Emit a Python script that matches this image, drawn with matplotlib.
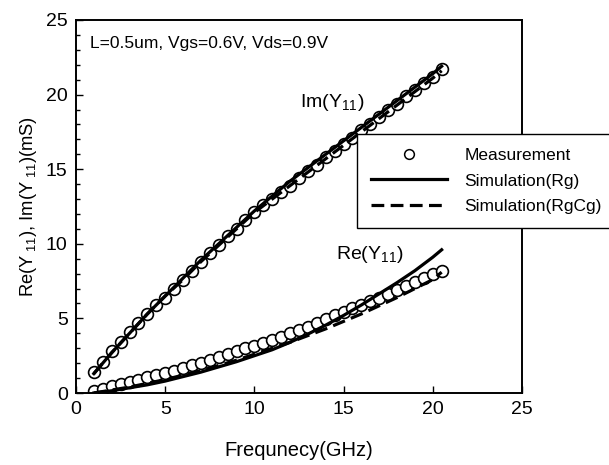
import matplotlib
matplotlib.use("Agg")
import matplotlib.pyplot as plt
from matplotlib.lines import Line2D

plt.rcParams['font.family'] = ['Liberation Sans', 'DejaVu Sans']
plt.rcParams['mathtext.fontset'] = 'custom'
plt.rcParams['mathtext.rm'] = 'Liberation Sans'
plt.rcParams['mathtext.it'] = 'Liberation Sans'
plt.rcParams['mathtext.bf'] = 'Liberation Sans'

# Measurement frequency (GHz)
freq_meas = [1.0, 1.5, 2.0, 2.5, 3.0, 3.5, 4.0, 4.5, 5.0, 5.5,
             6.0, 6.5, 7.0, 7.5, 8.0, 8.5, 9.0, 9.5, 10.0, 10.5,
             11.0, 11.5, 12.0, 12.5, 13.0, 13.5, 14.0, 14.5, 15.0, 15.5,
             16.0, 16.5, 17.0, 17.5, 18.0, 18.5, 19.0, 19.5, 20.0, 20.5]
im_meas = [1.4, 2.1, 2.8, 3.4, 4.1, 4.7, 5.3, 5.9, 6.4, 7.0,
           7.6, 8.2, 8.8, 9.4, 9.9, 10.5, 11.0, 11.6, 12.1, 12.6,
           13.0, 13.5, 13.9, 14.4, 14.9, 15.3, 15.8, 16.2, 16.7, 17.1,
           17.6, 18.0, 18.5, 19.0, 19.4, 19.9, 20.3, 20.8, 21.2, 21.7]
re_meas = [0.15, 0.3, 0.45, 0.6, 0.75, 0.9, 1.05, 1.2, 1.35, 1.5,
           1.65, 1.85, 2.0, 2.2, 2.4, 2.6, 2.8, 3.0, 3.15, 3.35,
           3.55, 3.75, 4.0, 4.2, 4.45, 4.7, 4.95, 5.2, 5.45, 5.7,
           5.9, 6.15, 6.4, 6.65, 6.9, 7.2, 7.45, 7.7, 7.95, 8.2]

# Simulation frequency (GHz)
freq_sim = [1, 2, 3, 4, 5, 6, 7, 8, 9, 10, 11, 12, 13, 14, 15, 16, 17, 18, 19, 20, 20.5]
im_rg = [1.3, 2.7, 4.0, 5.3, 6.5, 7.7, 8.9, 10.0, 11.1, 12.2, 13.2, 14.2,
         15.1, 16.0, 16.9, 17.8, 18.7, 19.6, 20.5, 21.4, 21.9]
im_rgcg = [1.3, 2.7, 4.0, 5.3, 6.5, 7.6, 8.8, 9.9, 11.0, 12.1, 13.0, 13.9,
           14.8, 15.7, 16.6, 17.5, 18.4, 19.3, 20.2, 21.1, 21.6]
re_rg = [0.0, 0.15, 0.35, 0.55, 0.8, 1.1, 1.4, 1.75, 2.1, 2.5, 2.9, 3.4,
         3.95, 4.55, 5.2, 5.9, 6.65, 7.4, 8.2, 9.1, 9.6]
re_rgcg = [0.0, 0.2, 0.4, 0.65, 0.9, 1.2, 1.5, 1.85, 2.2, 2.6, 3.0, 3.4,
           3.85, 4.3, 4.8, 5.3, 5.85, 6.4, 7.0, 7.6, 8.1]

fig = plt.figure(figsize=(6.09, 4.65), dpi=100)
ax = fig.add_axes([0.1248, 0.1548, 0.7322, 0.8022])

mk = dict(marker='o', ms=8.5, mfc='white', mec='black', mew=1.2, ls='none', zorder=2)
ax.plot(freq_meas, im_meas, **mk)
ax.plot(freq_meas, re_meas, **mk)
ax.plot(freq_sim, im_rg, color='black', lw=2.3, zorder=3)
ax.plot(freq_sim, re_rg, color='black', lw=2.3, zorder=3)
ax.plot(freq_sim, im_rgcg, color='black', lw=2.3, dashes=(4, 2), zorder=3)
ax.plot(freq_sim, re_rgcg, color='black', lw=2.3, dashes=(4, 2), zorder=3)

ax.set_xlim(0, 25)
ax.set_ylim(0, 25)
ax.set_xticks([0, 5, 10, 15, 20, 25])
ax.set_yticks([0, 5, 10, 15, 20, 25])
ax.set_yticks(range(0, 26), minor=True)
ax.tick_params(axis='both', which='major', direction='in', length=5, width=1,
               labelsize=14, top=False, right=False, pad=6)
ax.tick_params(axis='y', which='minor', direction='in', length=3, width=1, right=False)
for s in ax.spines.values():
    s.set_linewidth(1.4)

ax.set_xlabel('Frequnecy(GHz)', fontsize=14.5, labelpad=16)
ax.set_ylabel(r'Re(Y$_{\ 11}$), Im(Y$_{\ 11}$)(mS)', fontsize=13.2, labelpad=5)

ax.text(0.8, 23.4, 'L=0.5um, Vgs=0.6V, Vds=0.9V', fontsize=12.5, va='center', ha='left')
ax.text(12.55, 19.2, r'Im(Y$_{11}$)', fontsize=14, ha='left', va='baseline')
ax.text(14.55, 9.0, r'Re(Y$_{11}$)', fontsize=14, ha='left', va='baseline')

handles = [
    Line2D([], [], marker='o', ms=7, mfc='white', mec='black', mew=1.1, ls='none'),
    Line2D([], [], color='black', lw=2.3),
    Line2D([], [], color='black', lw=2.3, dashes=(4, 2)),
]
labels = ['Measurement', 'Simulation(Rg)', 'Simulation(RgCg)']
leg = fig.legend(handles, labels, loc='upper left',
                 bbox_to_anchor=(0.586, 0.712), fontsize=12.5,
                 frameon=True, fancybox=False, edgecolor='black',
                 framealpha=1, handlelength=4.4, handletextpad=1.0,
                 labelspacing=0.6, borderpad=0.8, borderaxespad=0)
leg.get_frame().set_linewidth(1.0)
leg.set_zorder(10)

fig.savefig('out.png', dpi=100)
